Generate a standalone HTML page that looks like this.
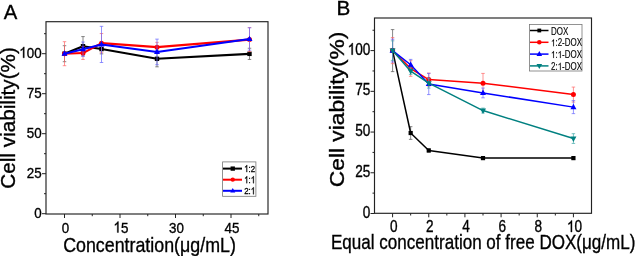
<!DOCTYPE html>
<html><head><meta charset="utf-8"><style>
html,body{margin:0;padding:0;background:#fff;width:637px;height:256px;overflow:hidden}
svg{display:block;will-change:transform}
text,path.t{font-family:"Liberation Sans", sans-serif;stroke:#000;stroke-width:0.35px}
text.lg,path.lg{stroke-width:0.12px}
text.lga,path.lga{stroke-width:0.3px}
</style></head><body>
<svg width="637" height="256" viewBox="0 0 637 256">
<rect width="637" height="256" fill="#fff"/>
<rect x="46.0" y="21.7" width="222.0" height="192.3" fill="none" stroke="#222" stroke-width="1.15"/>
<line x1="64.50" y1="214.0" x2="64.50" y2="218.0" stroke="#222" stroke-width="1"/>
<line x1="120.00" y1="214.0" x2="120.00" y2="218.0" stroke="#222" stroke-width="1"/>
<line x1="175.50" y1="214.0" x2="175.50" y2="218.0" stroke="#222" stroke-width="1"/>
<line x1="231.00" y1="214.0" x2="231.00" y2="218.0" stroke="#222" stroke-width="1"/>
<line x1="92.25" y1="214.0" x2="92.25" y2="216.2" stroke="#222" stroke-width="1"/>
<line x1="147.75" y1="214.0" x2="147.75" y2="216.2" stroke="#222" stroke-width="1"/>
<line x1="203.25" y1="214.0" x2="203.25" y2="216.2" stroke="#222" stroke-width="1"/>
<line x1="258.75" y1="214.0" x2="258.75" y2="216.2" stroke="#222" stroke-width="1"/>
<line x1="42.0" y1="213.70" x2="46.0" y2="213.70" stroke="#222" stroke-width="1"/>
<line x1="42.0" y1="173.70" x2="46.0" y2="173.70" stroke="#222" stroke-width="1"/>
<line x1="42.0" y1="133.70" x2="46.0" y2="133.70" stroke="#222" stroke-width="1"/>
<line x1="42.0" y1="93.70" x2="46.0" y2="93.70" stroke="#222" stroke-width="1"/>
<line x1="42.0" y1="53.70" x2="46.0" y2="53.70" stroke="#222" stroke-width="1"/>
<line x1="44.0" y1="193.70" x2="46.0" y2="193.70" stroke="#222" stroke-width="1"/>
<line x1="44.0" y1="153.70" x2="46.0" y2="153.70" stroke="#222" stroke-width="1"/>
<line x1="44.0" y1="113.70" x2="46.0" y2="113.70" stroke="#222" stroke-width="1"/>
<line x1="44.0" y1="73.70" x2="46.0" y2="73.70" stroke="#222" stroke-width="1"/>
<line x1="44.0" y1="33.70" x2="46.0" y2="33.70" stroke="#222" stroke-width="1"/>
<line x1="64.50" y1="45.70" x2="64.50" y2="61.70" stroke="#555" stroke-width="0.7"/>
<line x1="62.75" y1="45.70" x2="66.25" y2="45.70" stroke="#555" stroke-width="0.7"/>
<line x1="62.75" y1="61.70" x2="66.25" y2="61.70" stroke="#555" stroke-width="0.7"/>
<line x1="83.00" y1="36.58" x2="83.00" y2="55.78" stroke="#555" stroke-width="0.7"/>
<line x1="81.25" y1="36.58" x2="84.75" y2="36.58" stroke="#555" stroke-width="0.7"/>
<line x1="81.25" y1="55.78" x2="84.75" y2="55.78" stroke="#555" stroke-width="0.7"/>
<line x1="101.50" y1="44.26" x2="101.50" y2="53.86" stroke="#555" stroke-width="0.7"/>
<line x1="99.75" y1="44.26" x2="103.25" y2="44.26" stroke="#555" stroke-width="0.7"/>
<line x1="99.75" y1="53.86" x2="103.25" y2="53.86" stroke="#555" stroke-width="0.7"/>
<line x1="157.00" y1="50.82" x2="157.00" y2="66.82" stroke="#555" stroke-width="0.7"/>
<line x1="155.25" y1="50.82" x2="158.75" y2="50.82" stroke="#555" stroke-width="0.7"/>
<line x1="155.25" y1="66.82" x2="158.75" y2="66.82" stroke="#555" stroke-width="0.7"/>
<line x1="249.50" y1="48.26" x2="249.50" y2="59.46" stroke="#555" stroke-width="0.7"/>
<line x1="247.75" y1="48.26" x2="251.25" y2="48.26" stroke="#555" stroke-width="0.7"/>
<line x1="247.75" y1="59.46" x2="251.25" y2="59.46" stroke="#555" stroke-width="0.7"/>
<polyline points="64.50,53.70 83.00,46.18 101.50,49.06 157.00,58.82 249.50,53.86" fill="none" stroke="#000000" stroke-width="2.1" stroke-linejoin="round"/>
<rect x="62.30" y="51.50" width="4.4" height="4.4" fill="#000000"/>
<rect x="80.80" y="43.98" width="4.4" height="4.4" fill="#000000"/>
<rect x="99.30" y="46.86" width="4.4" height="4.4" fill="#000000"/>
<rect x="154.80" y="56.62" width="4.4" height="4.4" fill="#000000"/>
<rect x="247.30" y="51.66" width="4.4" height="4.4" fill="#000000"/>
<line x1="64.50" y1="41.70" x2="64.50" y2="65.70" stroke="#f66" stroke-width="0.7"/>
<line x1="62.75" y1="41.70" x2="66.25" y2="41.70" stroke="#f66" stroke-width="0.7"/>
<line x1="62.75" y1="65.70" x2="66.25" y2="65.70" stroke="#f66" stroke-width="0.7"/>
<line x1="83.00" y1="46.66" x2="83.00" y2="59.46" stroke="#f66" stroke-width="0.7"/>
<line x1="81.25" y1="46.66" x2="84.75" y2="46.66" stroke="#f66" stroke-width="0.7"/>
<line x1="81.25" y1="59.46" x2="84.75" y2="59.46" stroke="#f66" stroke-width="0.7"/>
<line x1="101.50" y1="33.54" x2="101.50" y2="52.74" stroke="#f66" stroke-width="0.7"/>
<line x1="99.75" y1="33.54" x2="103.25" y2="33.54" stroke="#f66" stroke-width="0.7"/>
<line x1="99.75" y1="52.74" x2="103.25" y2="52.74" stroke="#f66" stroke-width="0.7"/>
<line x1="157.00" y1="42.34" x2="157.00" y2="51.94" stroke="#f66" stroke-width="0.7"/>
<line x1="155.25" y1="42.34" x2="158.75" y2="42.34" stroke="#f66" stroke-width="0.7"/>
<line x1="155.25" y1="51.94" x2="158.75" y2="51.94" stroke="#f66" stroke-width="0.7"/>
<line x1="249.50" y1="27.62" x2="249.50" y2="51.62" stroke="#f66" stroke-width="0.7"/>
<line x1="247.75" y1="27.62" x2="251.25" y2="27.62" stroke="#f66" stroke-width="0.7"/>
<line x1="247.75" y1="51.62" x2="251.25" y2="51.62" stroke="#f66" stroke-width="0.7"/>
<polyline points="64.50,53.70 83.00,53.06 101.50,43.14 157.00,47.14 249.50,39.62" fill="none" stroke="#ff0000" stroke-width="2.1" stroke-linejoin="round"/>
<circle cx="64.50" cy="53.70" r="2.5" fill="#ff0000"/>
<circle cx="83.00" cy="53.06" r="2.5" fill="#ff0000"/>
<circle cx="101.50" cy="43.14" r="2.5" fill="#ff0000"/>
<circle cx="157.00" cy="47.14" r="2.5" fill="#ff0000"/>
<circle cx="249.50" cy="39.62" r="2.5" fill="#ff0000"/>
<line x1="83.00" y1="42.02" x2="83.00" y2="56.42" stroke="#66f" stroke-width="0.7"/>
<line x1="81.25" y1="42.02" x2="84.75" y2="42.02" stroke="#66f" stroke-width="0.7"/>
<line x1="81.25" y1="56.42" x2="84.75" y2="56.42" stroke="#66f" stroke-width="0.7"/>
<line x1="101.50" y1="26.34" x2="101.50" y2="62.50" stroke="#66f" stroke-width="0.7"/>
<line x1="99.75" y1="26.34" x2="103.25" y2="26.34" stroke="#66f" stroke-width="0.7"/>
<line x1="99.75" y1="62.50" x2="103.25" y2="62.50" stroke="#66f" stroke-width="0.7"/>
<line x1="157.00" y1="39.14" x2="157.00" y2="64.74" stroke="#66f" stroke-width="0.7"/>
<line x1="155.25" y1="39.14" x2="158.75" y2="39.14" stroke="#66f" stroke-width="0.7"/>
<line x1="155.25" y1="64.74" x2="158.75" y2="64.74" stroke="#66f" stroke-width="0.7"/>
<line x1="249.50" y1="27.78" x2="249.50" y2="50.18" stroke="#66f" stroke-width="0.7"/>
<line x1="247.75" y1="27.78" x2="251.25" y2="27.78" stroke="#66f" stroke-width="0.7"/>
<line x1="247.75" y1="50.18" x2="251.25" y2="50.18" stroke="#66f" stroke-width="0.7"/>
<polyline points="64.50,53.70 83.00,49.22 101.50,44.42 157.00,51.94 249.50,38.98" fill="none" stroke="#0000ff" stroke-width="2.1" stroke-linejoin="round"/>
<polygon points="64.50,50.35 67.50,55.75 61.50,55.75" fill="#0000ff"/>
<polygon points="83.00,45.87 86.00,51.27 80.00,51.27" fill="#0000ff"/>
<polygon points="101.50,41.07 104.50,46.47 98.50,46.47" fill="#0000ff"/>
<polygon points="157.00,48.59 160.00,53.99 154.00,53.99" fill="#0000ff"/>
<polygon points="249.50,35.63 252.50,41.03 246.50,41.03" fill="#0000ff"/>
<text transform="translate(41.60,217.80) scale(0.88,1.0)" font-size="15.2" text-anchor="end" fill="#000">0</text>
<text transform="translate(41.60,177.80) scale(0.88,1.0)" font-size="15.2" text-anchor="end" fill="#000">25</text>
<text transform="translate(41.60,137.80) scale(0.88,1.0)" font-size="15.2" text-anchor="end" fill="#000">50</text>
<text transform="translate(41.60,97.80) scale(0.88,1.0)" font-size="15.2" text-anchor="end" fill="#000">75</text>
<g transform="translate(41.60,57.80) scale(0.88,1.0)"><text x="-25.361" y="0" font-size="15.2" fill="#000"> 00</text><path class="t" stroke="#000" transform="translate(-25.361,0) scale(0.007422,-0.007422)" d="M583,0 L583,1147 Q457,1027 223,930 L223,1104 Q401,1188 520,1300 Q610,1385 650,1466 L763,1466 L763,0 Z" fill="#000" vector-effect="non-scaling-stroke"/></g>
<text transform="translate(65.40,232.50) scale(0.88,1.0)" font-size="15.2" text-anchor="middle" fill="#000">0</text>
<g transform="translate(120.90,232.50) scale(0.88,1.0)"><text x="-8.454" y="0" font-size="15.2" fill="#000"> 5</text><path class="t" stroke="#000" transform="translate(-8.454,0) scale(0.007422,-0.007422)" d="M583,0 L583,1147 Q457,1027 223,930 L223,1104 Q401,1188 520,1300 Q610,1385 650,1466 L763,1466 L763,0 Z" fill="#000" vector-effect="non-scaling-stroke"/></g>
<text transform="translate(176.40,232.50) scale(0.88,1.0)" font-size="15.2" text-anchor="middle" fill="#000">30</text>
<text transform="translate(231.90,232.50) scale(0.88,1.0)" font-size="15.2" text-anchor="middle" fill="#000">45</text>
<text transform="translate(149.50,251.80) scale(0.866,1.0)" font-size="20.6" text-anchor="middle" fill="#000">Concentration(μg/mL)</text>
<text transform="translate(15.00,117.90) rotate(-90) scale(1.037,1.0)" font-size="20" text-anchor="middle" fill="#000">Cell viability(%)</text>
<text transform="translate(3.70,18.60)" font-size="20.3" text-anchor="start" fill="#000">A</text>
<rect x="222.6" y="161.9" width="33.3" height="34.4" fill="#fff" stroke="#777" stroke-width="0.8"/>
<line x1="223" y1="168.6" x2="242" y2="168.6" stroke="#000000" stroke-width="2"/>
<rect x="230.60" y="166.45" width="4.3" height="4.3" fill="#000000"/>
<g transform="translate(244.20,172.10) scale(0.8,1.0)"><text class="lga" x="0.000" y="0" font-size="9.9" fill="#000"> :2</text><path class="lga" stroke="#000" transform="translate(0.000,0) scale(0.004834,-0.004834)" d="M583,0 L583,1147 Q457,1027 223,930 L223,1104 Q401,1188 520,1300 Q610,1385 650,1466 L763,1466 L763,0 Z" fill="#000" vector-effect="non-scaling-stroke"/></g>
<line x1="223" y1="179.7" x2="242" y2="179.7" stroke="#ff0000" stroke-width="2"/>
<circle cx="232.75" cy="179.70" r="2.15" fill="#ff0000"/>
<g transform="translate(244.20,183.20) scale(0.8,1.0)"><text class="lga" x="0.000" y="0" font-size="9.9" fill="#000"> : </text><path class="lga" stroke="#000" transform="translate(0.000,0) scale(0.004834,-0.004834)" d="M583,0 L583,1147 Q457,1027 223,930 L223,1104 Q401,1188 520,1300 Q610,1385 650,1466 L763,1466 L763,0 Z" fill="#000" vector-effect="non-scaling-stroke"/><path class="lga" stroke="#000" transform="translate(8.256,0) scale(0.004834,-0.004834)" d="M583,0 L583,1147 Q457,1027 223,930 L223,1104 Q401,1188 520,1300 Q610,1385 650,1466 L763,1466 L763,0 Z" fill="#000" vector-effect="non-scaling-stroke"/></g>
<line x1="223" y1="190.79999999999998" x2="242" y2="190.79999999999998" stroke="#0000ff" stroke-width="2"/>
<polygon points="232.75,188.01 235.25,192.51 230.25,192.51" fill="#0000ff"/>
<g transform="translate(244.20,194.30) scale(0.8,1.0)"><text class="lga" x="0.000" y="0" font-size="9.9" fill="#000">2: </text><path class="lga" stroke="#000" transform="translate(8.256,0) scale(0.004834,-0.004834)" d="M583,0 L583,1147 Q457,1027 223,930 L223,1104 Q401,1188 520,1300 Q610,1385 650,1466 L763,1466 L763,0 Z" fill="#000" vector-effect="non-scaling-stroke"/></g>
<rect x="374.5" y="18" width="217.0" height="195.3" fill="none" stroke="#222" stroke-width="1.15"/>
<line x1="392.58" y1="213.3" x2="392.58" y2="217.3" stroke="#222" stroke-width="1"/>
<line x1="428.75" y1="213.3" x2="428.75" y2="217.3" stroke="#222" stroke-width="1"/>
<line x1="464.92" y1="213.3" x2="464.92" y2="217.3" stroke="#222" stroke-width="1"/>
<line x1="501.08" y1="213.3" x2="501.08" y2="217.3" stroke="#222" stroke-width="1"/>
<line x1="537.25" y1="213.3" x2="537.25" y2="217.3" stroke="#222" stroke-width="1"/>
<line x1="573.42" y1="213.3" x2="573.42" y2="217.3" stroke="#222" stroke-width="1"/>
<line x1="410.67" y1="213.3" x2="410.67" y2="215.5" stroke="#222" stroke-width="1"/>
<line x1="446.83" y1="213.3" x2="446.83" y2="215.5" stroke="#222" stroke-width="1"/>
<line x1="483.00" y1="213.3" x2="483.00" y2="215.5" stroke="#222" stroke-width="1"/>
<line x1="519.17" y1="213.3" x2="519.17" y2="215.5" stroke="#222" stroke-width="1"/>
<line x1="555.33" y1="213.3" x2="555.33" y2="215.5" stroke="#222" stroke-width="1"/>
<line x1="370.5" y1="213.50" x2="374.5" y2="213.50" stroke="#222" stroke-width="1"/>
<line x1="370.5" y1="172.78" x2="374.5" y2="172.78" stroke="#222" stroke-width="1"/>
<line x1="370.5" y1="132.05" x2="374.5" y2="132.05" stroke="#222" stroke-width="1"/>
<line x1="370.5" y1="91.33" x2="374.5" y2="91.33" stroke="#222" stroke-width="1"/>
<line x1="370.5" y1="50.60" x2="374.5" y2="50.60" stroke="#222" stroke-width="1"/>
<line x1="372.5" y1="193.14" x2="374.5" y2="193.14" stroke="#222" stroke-width="1"/>
<line x1="372.5" y1="152.41" x2="374.5" y2="152.41" stroke="#222" stroke-width="1"/>
<line x1="372.5" y1="111.69" x2="374.5" y2="111.69" stroke="#222" stroke-width="1"/>
<line x1="372.5" y1="70.96" x2="374.5" y2="70.96" stroke="#222" stroke-width="1"/>
<line x1="372.5" y1="30.24" x2="374.5" y2="30.24" stroke="#222" stroke-width="1"/>
<line x1="392.58" y1="29.59" x2="392.58" y2="71.61" stroke="#555" stroke-width="0.7"/>
<line x1="390.83" y1="29.59" x2="394.33" y2="29.59" stroke="#555" stroke-width="0.7"/>
<line x1="390.83" y1="71.61" x2="394.33" y2="71.61" stroke="#555" stroke-width="0.7"/>
<line x1="410.67" y1="126.67" x2="410.67" y2="139.38" stroke="#555" stroke-width="0.7"/>
<line x1="408.92" y1="126.67" x2="412.42" y2="126.67" stroke="#555" stroke-width="0.7"/>
<line x1="408.92" y1="139.38" x2="412.42" y2="139.38" stroke="#555" stroke-width="0.7"/>
<line x1="428.75" y1="148.83" x2="428.75" y2="152.09" stroke="#555" stroke-width="0.7"/>
<line x1="427.00" y1="148.83" x2="430.50" y2="148.83" stroke="#555" stroke-width="0.7"/>
<line x1="427.00" y1="152.09" x2="430.50" y2="152.09" stroke="#555" stroke-width="0.7"/>
<line x1="483.00" y1="156.81" x2="483.00" y2="159.42" stroke="#555" stroke-width="0.7"/>
<line x1="481.25" y1="156.81" x2="484.75" y2="156.81" stroke="#555" stroke-width="0.7"/>
<line x1="481.25" y1="159.42" x2="484.75" y2="159.42" stroke="#555" stroke-width="0.7"/>
<line x1="573.42" y1="156.81" x2="573.42" y2="159.42" stroke="#555" stroke-width="0.7"/>
<line x1="571.67" y1="156.81" x2="575.17" y2="156.81" stroke="#555" stroke-width="0.7"/>
<line x1="571.67" y1="159.42" x2="575.17" y2="159.42" stroke="#555" stroke-width="0.7"/>
<polyline points="392.58,50.60 410.67,133.03 428.75,150.46 483.00,158.11 573.42,158.11" fill="none" stroke="#000000" stroke-width="1.5" stroke-linejoin="round"/>
<rect x="390.48" y="48.50" width="4.2" height="4.2" fill="#000000"/>
<rect x="408.57" y="130.93" width="4.2" height="4.2" fill="#000000"/>
<rect x="426.65" y="148.36" width="4.2" height="4.2" fill="#000000"/>
<rect x="480.90" y="156.01" width="4.2" height="4.2" fill="#000000"/>
<rect x="571.32" y="156.01" width="4.2" height="4.2" fill="#000000"/>
<line x1="392.58" y1="37.57" x2="392.58" y2="63.63" stroke="#f66" stroke-width="0.7"/>
<line x1="390.83" y1="37.57" x2="394.33" y2="37.57" stroke="#f66" stroke-width="0.7"/>
<line x1="390.83" y1="63.63" x2="394.33" y2="63.63" stroke="#f66" stroke-width="0.7"/>
<line x1="410.67" y1="60.70" x2="410.67" y2="76.34" stroke="#f66" stroke-width="0.7"/>
<line x1="408.92" y1="60.70" x2="412.42" y2="60.70" stroke="#f66" stroke-width="0.7"/>
<line x1="408.92" y1="76.34" x2="412.42" y2="76.34" stroke="#f66" stroke-width="0.7"/>
<line x1="428.75" y1="73.08" x2="428.75" y2="86.11" stroke="#f66" stroke-width="0.7"/>
<line x1="427.00" y1="73.08" x2="430.50" y2="73.08" stroke="#f66" stroke-width="0.7"/>
<line x1="427.00" y1="86.11" x2="430.50" y2="86.11" stroke="#f66" stroke-width="0.7"/>
<line x1="483.00" y1="73.41" x2="483.00" y2="92.95" stroke="#f66" stroke-width="0.7"/>
<line x1="481.25" y1="73.41" x2="484.75" y2="73.41" stroke="#f66" stroke-width="0.7"/>
<line x1="481.25" y1="92.95" x2="484.75" y2="92.95" stroke="#f66" stroke-width="0.7"/>
<line x1="573.42" y1="87.09" x2="573.42" y2="102.08" stroke="#f66" stroke-width="0.7"/>
<line x1="571.67" y1="87.09" x2="575.17" y2="87.09" stroke="#f66" stroke-width="0.7"/>
<line x1="571.67" y1="102.08" x2="575.17" y2="102.08" stroke="#f66" stroke-width="0.7"/>
<polyline points="392.58,50.60 410.67,68.52 428.75,79.60 483.00,83.18 573.42,94.58" fill="none" stroke="#ff0000" stroke-width="1.5" stroke-linejoin="round"/>
<circle cx="392.58" cy="50.60" r="2.5" fill="#ff0000"/>
<circle cx="410.67" cy="68.52" r="2.5" fill="#ff0000"/>
<circle cx="428.75" cy="79.60" r="2.5" fill="#ff0000"/>
<circle cx="483.00" cy="83.18" r="2.5" fill="#ff0000"/>
<circle cx="573.42" cy="94.58" r="2.5" fill="#ff0000"/>
<line x1="392.58" y1="39.20" x2="392.58" y2="62.00" stroke="#66f" stroke-width="0.7"/>
<line x1="390.83" y1="39.20" x2="394.33" y2="39.20" stroke="#66f" stroke-width="0.7"/>
<line x1="390.83" y1="62.00" x2="394.33" y2="62.00" stroke="#66f" stroke-width="0.7"/>
<line x1="410.67" y1="59.40" x2="410.67" y2="70.15" stroke="#66f" stroke-width="0.7"/>
<line x1="408.92" y1="59.40" x2="412.42" y2="59.40" stroke="#66f" stroke-width="0.7"/>
<line x1="408.92" y1="70.15" x2="412.42" y2="70.15" stroke="#66f" stroke-width="0.7"/>
<line x1="428.75" y1="73.41" x2="428.75" y2="94.58" stroke="#66f" stroke-width="0.7"/>
<line x1="427.00" y1="73.41" x2="430.50" y2="73.41" stroke="#66f" stroke-width="0.7"/>
<line x1="427.00" y1="94.58" x2="430.50" y2="94.58" stroke="#66f" stroke-width="0.7"/>
<line x1="483.00" y1="88.07" x2="483.00" y2="97.84" stroke="#66f" stroke-width="0.7"/>
<line x1="481.25" y1="88.07" x2="484.75" y2="88.07" stroke="#66f" stroke-width="0.7"/>
<line x1="481.25" y1="97.84" x2="484.75" y2="97.84" stroke="#66f" stroke-width="0.7"/>
<line x1="573.42" y1="100.61" x2="573.42" y2="113.64" stroke="#66f" stroke-width="0.7"/>
<line x1="571.67" y1="100.61" x2="575.17" y2="100.61" stroke="#66f" stroke-width="0.7"/>
<line x1="571.67" y1="113.64" x2="575.17" y2="113.64" stroke="#66f" stroke-width="0.7"/>
<polyline points="392.58,50.60 410.67,64.77 428.75,83.99 483.00,92.95 573.42,107.13" fill="none" stroke="#0000ff" stroke-width="1.5" stroke-linejoin="round"/>
<polygon points="392.58,47.25 395.58,52.65 389.58,52.65" fill="#0000ff"/>
<polygon points="410.67,61.42 413.67,66.82 407.67,66.82" fill="#0000ff"/>
<polygon points="428.75,80.65 431.75,86.05 425.75,86.05" fill="#0000ff"/>
<polygon points="483.00,89.61 486.00,95.01 480.00,95.01" fill="#0000ff"/>
<polygon points="573.42,103.78 576.42,109.18 570.42,109.18" fill="#0000ff"/>
<line x1="392.58" y1="40.83" x2="392.58" y2="60.37" stroke="#4aa" stroke-width="0.7"/>
<line x1="390.83" y1="40.83" x2="394.33" y2="40.83" stroke="#4aa" stroke-width="0.7"/>
<line x1="390.83" y1="60.37" x2="394.33" y2="60.37" stroke="#4aa" stroke-width="0.7"/>
<line x1="410.67" y1="67.87" x2="410.67" y2="74.38" stroke="#4aa" stroke-width="0.7"/>
<line x1="408.92" y1="67.87" x2="412.42" y2="67.87" stroke="#4aa" stroke-width="0.7"/>
<line x1="408.92" y1="74.38" x2="412.42" y2="74.38" stroke="#4aa" stroke-width="0.7"/>
<line x1="428.75" y1="78.29" x2="428.75" y2="88.07" stroke="#4aa" stroke-width="0.7"/>
<line x1="427.00" y1="78.29" x2="430.50" y2="78.29" stroke="#4aa" stroke-width="0.7"/>
<line x1="427.00" y1="88.07" x2="430.50" y2="88.07" stroke="#4aa" stroke-width="0.7"/>
<line x1="483.00" y1="108.10" x2="483.00" y2="112.99" stroke="#4aa" stroke-width="0.7"/>
<line x1="481.25" y1="108.10" x2="484.75" y2="108.10" stroke="#4aa" stroke-width="0.7"/>
<line x1="481.25" y1="112.99" x2="484.75" y2="112.99" stroke="#4aa" stroke-width="0.7"/>
<line x1="573.42" y1="133.68" x2="573.42" y2="143.45" stroke="#4aa" stroke-width="0.7"/>
<line x1="571.67" y1="133.68" x2="575.17" y2="133.68" stroke="#4aa" stroke-width="0.7"/>
<line x1="571.67" y1="143.45" x2="575.17" y2="143.45" stroke="#4aa" stroke-width="0.7"/>
<polyline points="392.58,50.60 410.67,71.13 428.75,83.18 483.00,110.55 573.42,138.57" fill="none" stroke="#008080" stroke-width="1.5" stroke-linejoin="round"/>
<polygon points="392.58,53.95 395.58,48.55 389.58,48.55" fill="#008080"/>
<polygon points="410.67,74.47 413.67,69.07 407.67,69.07" fill="#008080"/>
<polygon points="428.75,86.53 431.75,81.13 425.75,81.13" fill="#008080"/>
<polygon points="483.00,113.90 486.00,108.50 480.00,108.50" fill="#008080"/>
<polygon points="573.42,141.91 576.42,136.51 570.42,136.51" fill="#008080"/>
<text transform="translate(370.40,217.60) scale(0.84,1.0)" font-size="16.2" text-anchor="end" fill="#000">0</text>
<text transform="translate(370.40,176.88) scale(0.84,1.0)" font-size="16.2" text-anchor="end" fill="#000">25</text>
<text transform="translate(370.40,136.15) scale(0.84,1.0)" font-size="16.2" text-anchor="end" fill="#000">50</text>
<text transform="translate(370.40,95.42) scale(0.84,1.0)" font-size="16.2" text-anchor="end" fill="#000">75</text>
<g transform="translate(370.40,54.70) scale(0.84,1.0)"><text x="-27.029" y="0" font-size="16.2" fill="#000"> 00</text><path class="t" stroke="#000" transform="translate(-27.029,0) scale(0.007910,-0.007910)" d="M583,0 L583,1147 Q457,1027 223,930 L223,1104 Q401,1188 520,1300 Q610,1385 650,1466 L763,1466 L763,0 Z" fill="#000" vector-effect="non-scaling-stroke"/></g>
<text transform="translate(393.68,232.00) scale(0.84,1.0)" font-size="16.2" text-anchor="middle" fill="#000">0</text>
<text transform="translate(429.85,232.00) scale(0.84,1.0)" font-size="16.2" text-anchor="middle" fill="#000">2</text>
<text transform="translate(466.02,232.00) scale(0.84,1.0)" font-size="16.2" text-anchor="middle" fill="#000">4</text>
<text transform="translate(502.18,232.00) scale(0.84,1.0)" font-size="16.2" text-anchor="middle" fill="#000">6</text>
<text transform="translate(538.35,232.00) scale(0.84,1.0)" font-size="16.2" text-anchor="middle" fill="#000">8</text>
<g transform="translate(574.52,232.00) scale(0.84,1.0)"><text x="-9.010" y="0" font-size="16.2" fill="#000"> 0</text><path class="t" stroke="#000" transform="translate(-9.010,0) scale(0.007910,-0.007910)" d="M583,0 L583,1147 Q457,1027 223,930 L223,1104 Q401,1188 520,1300 Q610,1385 650,1466 L763,1466 L763,0 Z" fill="#000" vector-effect="non-scaling-stroke"/></g>
<text transform="translate(483.20,248.50) scale(0.832,1.0)" font-size="20.5" text-anchor="middle" fill="#000">Equal concentration of free DOX(μg/mL)</text>
<text transform="translate(343.70,109.40) rotate(-90) scale(1.112,1.0)" font-size="20.5" text-anchor="middle" fill="#000">Cell viability(%)</text>
<text transform="translate(336.40,14.60)" font-size="20.7" text-anchor="start" fill="#000">B</text>
<rect x="529.5" y="24.4" width="52.5" height="46.6" fill="#fff" stroke="#777" stroke-width="0.8"/>
<line x1="530" y1="30.5" x2="548.5" y2="30.5" stroke="#000000" stroke-width="1.5"/>
<rect x="537.40" y="28.60" width="3.8" height="3.8" fill="#000000"/>
<text class="lg" transform="translate(551.00,34.50) scale(0.8,1.0)" font-size="10.0" text-anchor="start" fill="#000">DOX</text>
<line x1="530" y1="42.3" x2="548.5" y2="42.3" stroke="#ff0000" stroke-width="1.5"/>
<circle cx="539.30" cy="42.30" r="2.3" fill="#ff0000"/>
<g transform="translate(551.00,46.30) scale(0.8,1.0)"><text class="lg" x="0.000" y="0" font-size="10.0" fill="#000"> :2-DOX</text><path class="lg" stroke="#000" transform="translate(0.000,0) scale(0.004883,-0.004883)" d="M583,0 L583,1147 Q457,1027 223,930 L223,1104 Q401,1188 520,1300 Q610,1385 650,1466 L763,1466 L763,0 Z" fill="#000" vector-effect="non-scaling-stroke"/></g>
<line x1="530" y1="54.1" x2="548.5" y2="54.1" stroke="#0000ff" stroke-width="1.5"/>
<polygon points="539.30,50.98 542.10,56.02 536.50,56.02" fill="#0000ff"/>
<g transform="translate(551.00,58.10) scale(0.8,1.0)"><text class="lg" x="0.000" y="0" font-size="10.0" fill="#000"> : -DOX</text><path class="lg" stroke="#000" transform="translate(0.000,0) scale(0.004883,-0.004883)" d="M583,0 L583,1147 Q457,1027 223,930 L223,1104 Q401,1188 520,1300 Q610,1385 650,1466 L763,1466 L763,0 Z" fill="#000" vector-effect="non-scaling-stroke"/><path class="lg" stroke="#000" transform="translate(8.340,0) scale(0.004883,-0.004883)" d="M583,0 L583,1147 Q457,1027 223,930 L223,1104 Q401,1188 520,1300 Q610,1385 650,1466 L763,1466 L763,0 Z" fill="#000" vector-effect="non-scaling-stroke"/></g>
<line x1="530" y1="65.9" x2="548.5" y2="65.9" stroke="#008080" stroke-width="1.5"/>
<polygon points="539.30,69.02 542.10,63.98 536.50,63.98" fill="#008080"/>
<g transform="translate(551.00,69.90) scale(0.8,1.0)"><text class="lg" x="0.000" y="0" font-size="10.0" fill="#000">2: -DOX</text><path class="lg" stroke="#000" transform="translate(8.340,0) scale(0.004883,-0.004883)" d="M583,0 L583,1147 Q457,1027 223,930 L223,1104 Q401,1188 520,1300 Q610,1385 650,1466 L763,1466 L763,0 Z" fill="#000" vector-effect="non-scaling-stroke"/></g>
</svg></body></html>
